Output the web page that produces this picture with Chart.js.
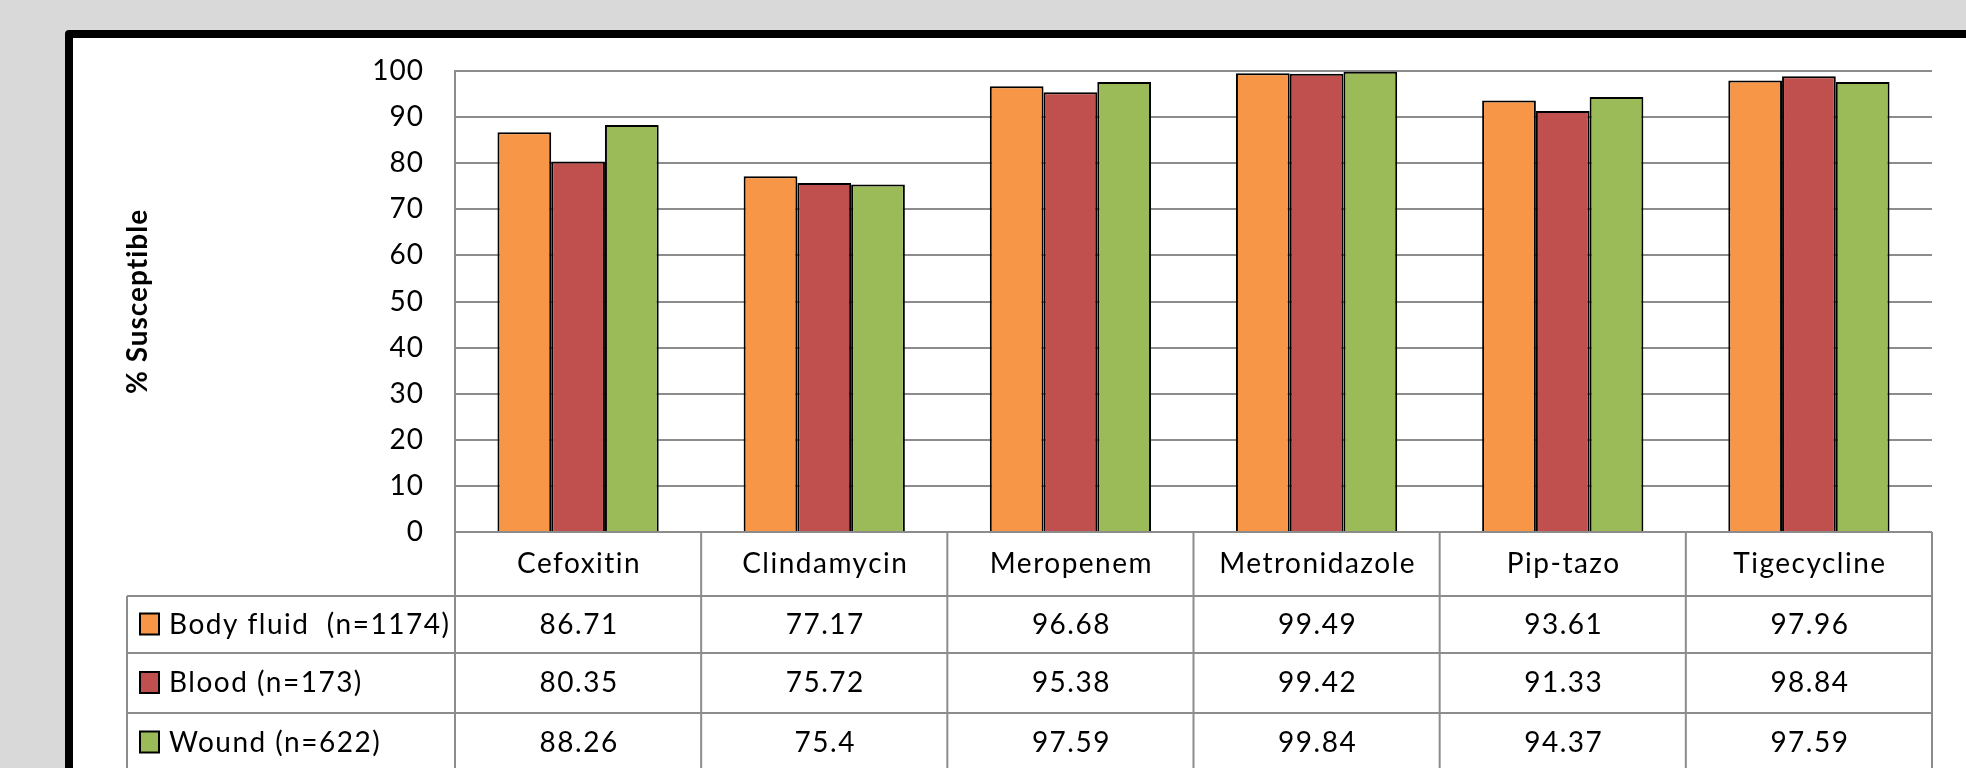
<!DOCTYPE html>
<html>
<head>
<meta charset="utf-8">
<script src="https://cdn.jsdelivr.net/npm/chart.js@4.4.1/dist/chart.umd.min.js"></script>
<style>
  html, body { margin: 0; padding: 0; width: 1966px; height: 768px; overflow: hidden; background: #d9d9d9; }
  #frame { position: absolute; left: 65px; top: 30px; width: 2000px; height: 800px;
           background: #fff; border: 8px solid #000; border-radius: 4px; }
  #chart { position: absolute; left: 0; top: 0; }
</style>
</head>
<body>
<div id="frame"></div>
<canvas id="chart" width="1966" height="768"></canvas>
<script>
// Antibiotic categories along the x axis
const categories = ['Cefoxitin', 'Clindamycin', 'Meropenem', 'Metronidazole', 'Pip-tazo', 'Tigecycline'];

// Specimen sources (series) and their % susceptible values
const seriesNames = ['Body fluid  (n=1174)', 'Blood (n=173)', 'Wound (n=622)'];
const bodyFluid = [86.71, 77.17, 96.68, 99.49, 93.61, 97.96];
const blood     = [80.35, 75.72, 95.38, 99.42, 91.33, 98.84];
const wound     = [88.26, 75.4, 97.59, 99.84, 94.37, 97.59];

// Value axis range
const yMin = 0, yMax = 100, yStep = 10;

const seriesColors = ['#F79646', '#C0504D', '#9BBB59'];
const gridGray = '#8c8c8c';
const FONT = 'Lato, "Open Sans", sans-serif';

// Slightly open tracking for all canvas text
const tracking = {
  id: 'tracking',
  beforeDraw(chart) { chart.ctx.letterSpacing = '1px'; }
};

// Draws the data table under the plot: category header row plus one row per series
const dataTable = {
  id: 'dataTable',
  afterDraw(chart) {
    const { ctx, chartArea } = chart;
    const x = chart.scales.x;
    const n = categories.length;
    const step = x.getPixelForValue(1) - x.getPixelForValue(0);
    const colEdge = i => x.getPixelForValue(i) - step / 2;
    const top = chartArea.bottom;
    const rowY = [top, top + 64, top + 121, top + 181, top + 240];
    const tableLeft = 127;
    const right = colEdge(n);

    ctx.save();
    ctx.strokeStyle = gridGray;
    ctx.lineWidth = 2;
    ctx.beginPath();
    // horizontal rules
    for (let r = 1; r < rowY.length; r++) {
      ctx.moveTo(tableLeft, rowY[r]);
      ctx.lineTo(right, rowY[r]);
    }
    // vertical rules
    ctx.moveTo(tableLeft, rowY[1]);
    ctx.lineTo(tableLeft, rowY[4]);
    for (let i = 0; i <= n; i++) {
      ctx.moveTo(colEdge(i), top);
      ctx.lineTo(colEdge(i), rowY[4]);
    }
    ctx.stroke();

    ctx.letterSpacing = '1.5px';
    ctx.fillStyle = '#000';
    ctx.font = '28px ' + FONT;
    ctx.textAlign = 'center';
    ctx.textBaseline = 'middle';
    // category header
    categories.forEach((c, i) => {
      ctx.fillText(c, x.getPixelForValue(i) + 1, (rowY[0] + rowY[1]) / 2);
    });
    // series rows
    chart.data.datasets.forEach((ds, r) => {
      const cy = (rowY[r + 1] + rowY[r + 2]) / 2;
      // legend key
      ctx.fillStyle = ds.backgroundColor;
      ctx.fillRect(140, cy - 11, 19, 21);
      ctx.strokeStyle = '#000';
      ctx.lineWidth = 2;
      ctx.strokeRect(140, cy - 11, 19, 21);
      ctx.fillStyle = '#000';
      ctx.textAlign = 'left';
      ctx.fillText(ds.label, 169, cy);
      ctx.textAlign = 'center';
      ds.data.forEach((v, i) => {
        ctx.fillText(String(v), x.getPixelForValue(i) + 1, cy);
      });
    });
    ctx.restore();
  }
};

function build() {
  new Chart(document.getElementById('chart'), {
    type: 'bar',
    data: {
      labels: categories,
      datasets: [bodyFluid, blood, wound].map((d, k) => ({
        label: seriesNames[k],
        data: d,
        backgroundColor: seriesColors[k],
        borderColor: '#000',
        borderWidth: 2,
        barPercentage: 1,
        categoryPercentage: 0.655
      }))
    },
    options: {
      responsive: false,
      animation: false,
      layout: { padding: { left: 120, top: 71, right: 34, bottom: 236 } },
      plugins: { legend: { display: false }, tooltip: { enabled: false } },
      scales: {
        x: { display: false },
        y: {
          min: yMin, max: yMax,
          ticks: { stepSize: yStep, color: '#000', padding: 31, font: { family: FONT, size: 28 } },
          grid: { color: gridGray, lineWidth: 2, drawTicks: false },
          border: { display: true, color: gridGray, width: 2 },
          title: { display: true, text: '% Susceptible', color: '#000',
                   font: { family: FONT, size: 28, weight: 'bold' }, padding: { top: 1, bottom: 0 } },
          afterFit(scale) { scale.width = 335; }
        }
      }
    },
    plugins: [tracking, dataTable]
  });
}

if (document.fonts && document.fonts.load) {
  Promise.all([document.fonts.load('28px Lato'), document.fonts.load('bold 28px Lato')])
    .then(build, build);
} else {
  build();
}
</script>
</body>
</html>
